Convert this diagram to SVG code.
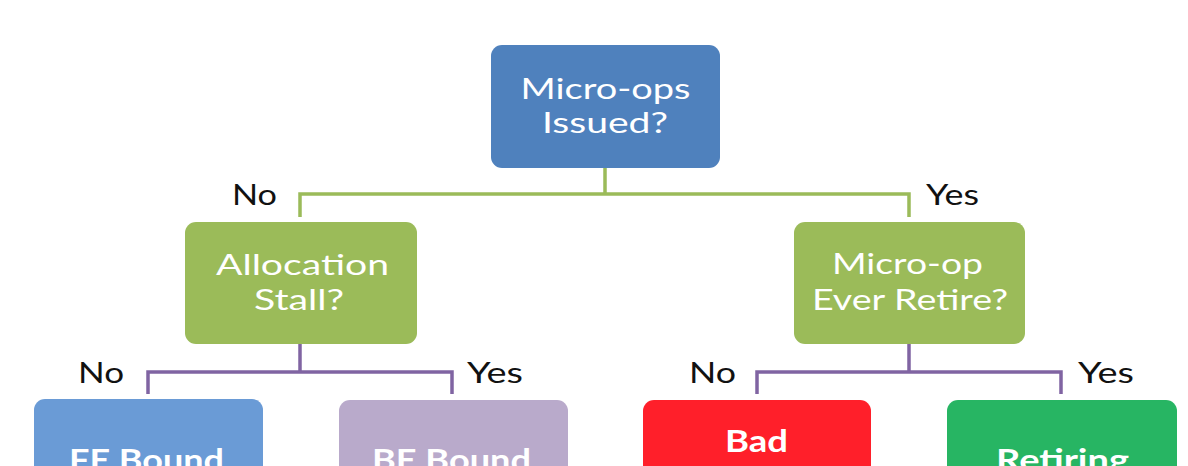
<svg xmlns="http://www.w3.org/2000/svg" width="1188" height="466" viewBox="0 0 1188 466">
<style>
.box{stroke:none}
.nt{font-family:Lato,"Open Sans","Liberation Sans",sans-serif;font-size:29px;fill:#ffffff;text-anchor:middle}
.bt{font-family:Lato,"Open Sans","Liberation Sans",sans-serif;font-size:30px;font-weight:bold;fill:#ffffff;text-anchor:middle}
.lb{font-family:Lato,"Open Sans","Liberation Sans",sans-serif;font-size:28px;fill:#111111;text-anchor:middle}
.cg{fill:none;stroke:#9BBB59;stroke-width:3.5}
.cp{fill:none;stroke:#8064A2;stroke-width:3.5}
</style>
<rect width="1188" height="466" fill="#ffffff"/>
<g id="connectors">
<path class="cg" d="M605 168 V194 M300 217 V194 H909 V217"/>
<path class="cp" d="M300 344 V372 M148 394 V372 H452 V394"/>
<path class="cp" d="M909 344 V372 M757 394 V372 H1061 V394"/>
</g>
<g id="labels">
<text class="lb" x="254.5" y="205" textLength="45" lengthAdjust="spacingAndGlyphs">No</text>
<text class="lb" x="952.5" y="205" textLength="53" lengthAdjust="spacingAndGlyphs">Yes</text>
<text class="lb" x="101" y="383" textLength="46" lengthAdjust="spacingAndGlyphs">No</text>
<text class="lb" x="495" y="383" textLength="56" lengthAdjust="spacingAndGlyphs">Yes</text>
<text class="lb" x="712.5" y="383" textLength="47" lengthAdjust="spacingAndGlyphs">No</text>
<text class="lb" x="1106" y="383" textLength="56" lengthAdjust="spacingAndGlyphs">Yes</text>
</g>
<g id="n-issued">
<rect class="box" x="491" y="45" width="229" height="123" rx="11" fill="#4F81BD"/>
<text class="nt" x="605.5" y="99" textLength="170" lengthAdjust="spacingAndGlyphs">Micro-ops</text>
<text class="nt" x="605" y="133" textLength="126" lengthAdjust="spacingAndGlyphs">Issued?</text>
</g>
<g id="n-alloc">
<rect class="box" x="185" y="222" width="232" height="122" rx="11" fill="#9BBB59"/>
<text class="nt" x="302.5" y="275" textLength="173" lengthAdjust="spacingAndGlyphs">Allocation</text>
<text class="nt" x="299" y="310" textLength="90" lengthAdjust="spacingAndGlyphs">Stall?</text>
</g>
<g id="n-retire">
<rect class="box" x="794" y="222" width="231" height="122" rx="11" fill="#9BBB59"/>
<text class="nt" x="907.5" y="274" textLength="151" lengthAdjust="spacingAndGlyphs">Micro-op</text>
<text class="nt" x="910" y="310" textLength="196" lengthAdjust="spacingAndGlyphs">Ever Retire?</text>
</g>
<g id="n-fe">
<rect class="box" x="34" y="399" width="229" height="123" rx="11" fill="#6A9BD6"/>
<text class="bt" x="146.5" y="471" textLength="155" lengthAdjust="spacingAndGlyphs">FE Bound</text>
</g>
<g id="n-be">
<rect class="box" x="339" y="400" width="229" height="122" rx="11" fill="#B9AACB"/>
<text class="bt" x="451.5" y="471" textLength="159" lengthAdjust="spacingAndGlyphs">BE Bound</text>
</g>
<g id="n-bad">
<rect class="box" x="643" y="400" width="228" height="122" rx="11" fill="#FF1F2A"/>
<text class="bt" x="756.5" y="452" textLength="63" lengthAdjust="spacingAndGlyphs">Bad</text>
<text class="bt" x="757" y="488.5">Speculation</text>
</g>
<g id="n-retiring">
<rect class="box" x="947" y="400" width="230" height="122" rx="11" fill="#27B563"/>
<text class="bt" x="1062.5" y="471" textLength="133" lengthAdjust="spacingAndGlyphs">Retiring</text>
</g>
</svg>
